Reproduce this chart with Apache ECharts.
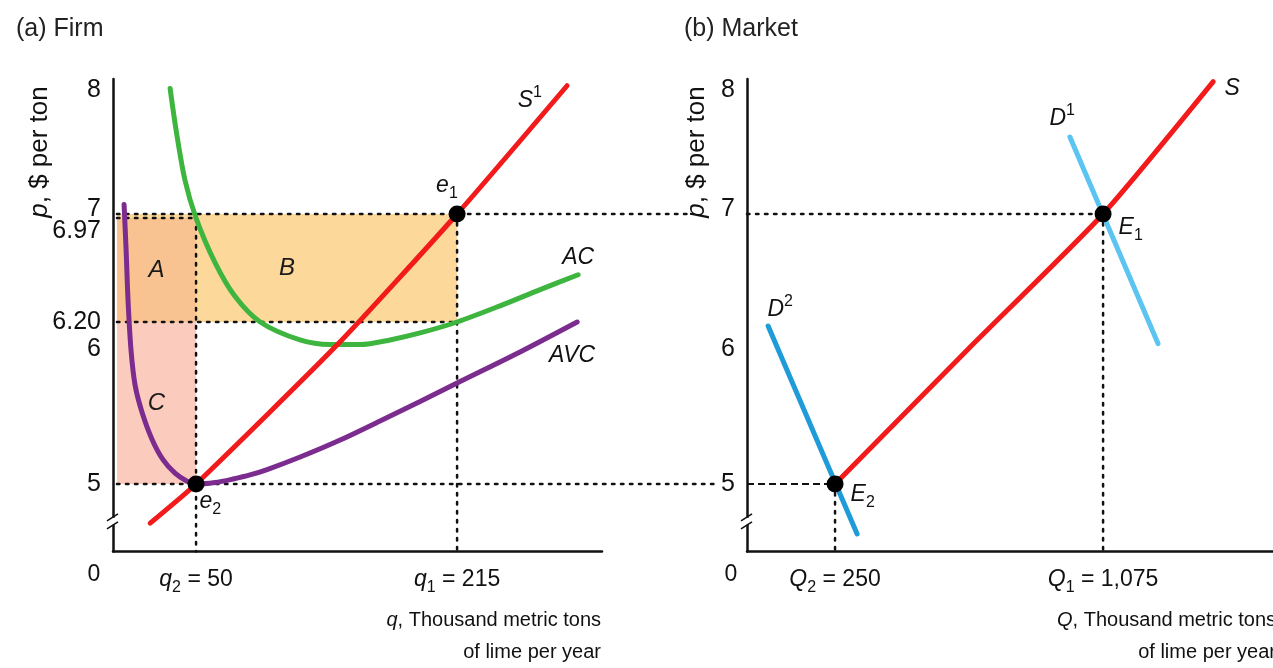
<!DOCTYPE html>
<html><head><meta charset="utf-8">
<script src="https://cdn.jsdelivr.net/npm/echarts@6/dist/echarts.min.js"></script>
<style>html,body{margin:0;padding:0;background:#fff}#c{width:1273px;height:668px}</style>
</head><body><div id="c"></div>
<script>
// ---------- Panel (a) Firm ----------
const firmS1  = [[21,4.71],[50,5],[140,6.04],[215,7],[284.5,7.95]];
const firmAC  = [[33.6,7.93],[37.4,7.62],[43,7.25],[50,6.97],[62,6.64],[74.6,6.39],[90.5,6.2],[115.7,6.067],[134.7,6.033],[153.6,6.033],[172.6,6.067],[191.6,6.119],[215,6.2],[242.2,6.32],[267.5,6.44],[291.5,6.55]];
const firmAVC = [[4.5,7.07],[5.8,6.73],[7,6.36],[8.9,5.99],[11.5,5.73],[15.9,5.53],[22.2,5.33],[29.1,5.18],[36.7,5.08],[44.3,5.02],[50,5],[62,5.011],[73.4,5.037],[84.1,5.067],[94.9,5.107],[115.8,5.2],[141.1,5.326],[166.3,5.467],[191.6,5.611],[216.9,5.759],[254.8,5.978],[290.9,6.2]];
const firmEquilibria = [[215,7],[50,5]];          // e1, e2
const firmQ = [50, 215];                           // q2, q1
const firmP = [7, 6.97, 6.2, 5];                   // p1, AC(q2), AC(q1), p2
const firmXTicks = [0, 50, 215];
const firmYTicks = [5, 6, 6.2, 6.97, 7, 8];
const firmBridge = [362, 380];                     // guide lines reaching into panel (b)
// ---------- Panel (b) Market ----------
const marketS  = [[250,5],[660,6],[1075,7],[1414,7.98]];
const marketD1 = [[973,7.57],[1244,6.04]];
const marketD2 = [[44,6.17],[318,4.63]];
const marketEquilibria = [[1075,7],[250,5]];      // E1, E2
const marketXTicks = [0, 250, 1075];
const marketYTicks = [5, 6, 7, 8];
// curve / point labels (text, x, y in data units)
const firmNotes = [['{it|S}{sup|1}',261,7.84],['{it|AC}',291.5,6.68],['{it|AVC}',287.7,5.95],['{it|e}{sub|1}',208.6,7.21],['{it|e}{sub|2}',59,4.87]];
const marketNotes = [['{it|S}',1472,7.93],['{it|D}{sup|1}',949,7.71],['{it|D}{sup|2}',81,6.29],['{it|E}{sub|1}',1160,6.9],['{it|E}{sub|2}',335,4.92]];
const areaNames = ['A','B','C'];

const FONT = 'Liberation Sans, Arial, Helvetica, sans-serif';
const C = '#111';
const rich = {
  it:{fontStyle:'italic',fontSize:23,fontFamily:FONT,color:C,lineHeight:32,verticalAlign:'middle'},
  n:{fontSize:23,fontFamily:FONT,color:C,lineHeight:32},
  sub:{fontSize:16,fontFamily:FONT,color:C,lineHeight:16,verticalAlign:'bottom'},
  sup:{fontSize:16,fontFamily:FONT,color:C,lineHeight:16,verticalAlign:'top'},
  zero:{fontSize:23,fontFamily:FONT,color:C,padding:[0,46,0,0]},
  up:{fontSize:25,fontFamily:FONT,color:C,padding:[0,0,10,0]},
  dn:{fontSize:25,fontFamily:FONT,color:C,padding:[26,0,0,0]},
  top:{fontSize:25,fontFamily:FONT,color:C,padding:[22,0,0,0]},
  y:{fontSize:25,fontFamily:FONT,color:C}
};
const nameRich = {
  it:{fontStyle:'italic',fontSize:20,fontFamily:FONT,fill:C,lineHeight:32},
  n:{fontSize:20,fontFamily:FONT,fill:C,lineHeight:32}
};
const yNameRich = {
  it:{fontStyle:'italic',fontSize:26,fontFamily:FONT,fill:C},
  n:{fontSize:26,fontFamily:FONT,fill:C}
};
const AX = {color:'#111', width:2.5};

const series = [];
const [qq2,qq1] = firmQ; const [p1,acq2,acq1,p2] = firmP;
function area(name, x0,y0,x1,y1,color){
  series.push({type:'line', xAxisIndex:0, yAxisIndex:0, data:[], z:1,
    markArea:{silent:true, itemStyle:{color:color, opacity:1},
      label:{show:true, position:'inside', formatter:name, fontStyle:'italic', fontSize:24, fontFamily:FONT, color:'#1a1a1a'},
      data:[[{xAxis:x0,yAxis:y0},{xAxis:x1,yAxis:y1}]]}});
}
area(areaNames[1], 0, acq1, qq1, p1, '#fcd89a');
area(areaNames[0], 0, acq1, qq2, acq2, '#f9c291');
area(areaNames[2], 0, p2, qq2, acq1, '#fbcbbd');

// dotted / dashed guide segments: [x0,y0,x1,y1,dashed?]
const [E1,E2] = marketEquilibria;
const firmGuides = [
  [0,p1,firmBridge[0],p1,0],[0,acq2,qq2,acq2,0],[qq2,acq2,qq2,4.5,0],
  [0,acq1,qq1,acq1,0],[qq1,p1,qq1,4.5,0],[0,p2,firmBridge[1],p2,0]
];
const marketGuides = [
  [-21,E1[1],E1[0],E1[1],0],[E1[0],E1[1],E1[0],4.5,0],
  [-21,E2[1],E2[0],E2[1],1],[E2[0],E2[1],E2[0],4.5,0]
];
function guides(xi,yi,list){
  series.push({type:'custom', xAxisIndex:xi, yAxisIndex:yi, data:list, z:3, clip:false, silent:true,
    renderItem:(params,api)=>{
      const a = api.coord([api.value(0),api.value(1)]);
      const b = api.coord([api.value(2),api.value(3)]);
      const dashed = api.value(4)===1;
      return {type:'line', shape:{x1:a[0],y1:a[1],x2:b[0],y2:b[1]},
        style:{stroke:'#111', lineWidth: dashed?2:2.5, lineDash: dashed?[7,4]:[2.5,6.5], lineCap: dashed?'butt':'round'}};
    }});
}
guides(0,0,firmGuides);
guides(1,1,marketGuides);

function curve(xi,yi,data,color,smooth){
  series.push({type:'line', xAxisIndex:xi, yAxisIndex:yi, data:data, symbol:'none', smooth:smooth, z:5,
    lineStyle:{color:color, width:5, cap:'round'}});
}
curve(0,0,firmAC,'#3db53f',0.3);
curve(0,0,firmAVC,'#7c2b8f',0.3);
curve(0,0,firmS1,'#f21a1a',0.2);
curve(1,1,marketD1,'#5cc4f0',false);
curve(1,1,marketD2,'#1f9bd7',false);
curve(1,1,marketS,'#f21a1a',0.2);

series.push({type:'scatter', xAxisIndex:0, yAxisIndex:0, data:firmEquilibria, symbolSize:17, itemStyle:{color:'#000', opacity:1}, z:8});
series.push({type:'scatter', xAxisIndex:1, yAxisIndex:1, data:marketEquilibria, symbolSize:17, itemStyle:{color:'#000', opacity:1}, z:8});

function notes(xi,yi,list){
  series.push({type:'scatter', xAxisIndex:xi, yAxisIndex:yi, symbolSize:0, z:9, silent:true,
    itemStyle:{opacity:1},
    data:list.map(n=>({value:[n[1],n[2]], name:n[0]})),
    label:{show:true, position:'inside', formatter:p=>p.name, rich:rich, color:C, opacity:1}});
}
notes(0,0,firmNotes);
notes(1,1,marketNotes);

function brk(xi,yi,x){
  series.push({type:'custom', xAxisIndex:xi, yAxisIndex:yi, data:[[x,4.72]], z:10, clip:false, silent:true,
    renderItem:(params,api)=>{
      const p = api.coord([api.value(0),api.value(1)]);
      return {type:'group', children:[
        {type:'rect', shape:{x:p[0]-5,y:p[1]-4,width:10,height:7}, style:{fill:'#fff'}},
        {type:'line', shape:{x1:p[0]-6,y1:p[1]-1,x2:p[0]+5,y2:p[1]-8}, style:{stroke:'#111',lineWidth:1.6}},
        {type:'line', shape:{x1:p[0]-6,y1:p[1]+7,x2:p[0]+5,y2:p[1]}, style:{stroke:'#111',lineWidth:1.6}}
      ]};
    }});
}
brk(0,0,-2.5);
brk(1,1,-21);

function xLab(sym, sub, num){ return '{it|'+sym+'}{sub|'+sub+'}{n| = '+num+'}'; }
const firmXLabels = {0:'{zero|0}', 50:xLab('q','2','50'), 215:xLab('q','1','215')};
const marketXLabels = {0:'{zero|0}', 250:xLab('Q','2','250'), 1075:xLab('Q','1','1,075')};
function yFmt(v){
  if (v===6.97) return '{dn|6.97}';
  if (v===7) return '{up|7}';
  if (v===8) return '{top|8}';
  if (v===6.2) return '{y|6.20}';
  return '{y|'+v+'}';
}

const option = {
  animation:false,
  backgroundColor:'#fff',
  title:[
    {text:'(a) Firm', left:11, top:12, textStyle:{fontSize:25, fontWeight:'normal', fontFamily:FONT, color:'#222'}},
    {text:'(b) Market', left:679, top:12, textStyle:{fontSize:25, fontWeight:'normal', fontFamily:FONT, color:'#222'}}
  ],
  grid:[
    {left:113, top:79, width:489, height:472.5, containLabel:false, outerBoundsMode:'none'},
    {left:747, top:79, width:526, height:472.5, containLabel:false, outerBoundsMode:'none'}
  ],
  xAxis:[
    {gridIndex:0, type:'value', min:-2.5, max:306.6, splitLine:{show:false}, axisTick:{show:false},
     axisLine:{onZero:false, lineStyle:AX},
     axisLabel:{customValues:firmXTicks, margin:12, formatter:v=>firmXLabels[v], rich:rich}},
    {gridIndex:1, type:'value', min:-21, max:1598, splitLine:{show:false}, axisTick:{show:false},
     axisLine:{onZero:false, lineStyle:AX},
     axisLabel:{customValues:marketXTicks, margin:12, formatter:v=>marketXLabels[v], rich:rich}}
  ],
  yAxis:[
    {gridIndex:0, type:'value', min:4.5, max:8, splitLine:{show:false}, axisTick:{show:false},
     axisLine:{show:true, onZero:false, lineStyle:AX},
     axisLabel:{customValues:firmYTicks, margin:12, formatter:yFmt, rich:rich}},
    {gridIndex:1, type:'value', min:4.5, max:8, splitLine:{show:false}, axisTick:{show:false},
     axisLine:{show:true, onZero:false, lineStyle:AX},
     axisLabel:{customValues:marketYTicks, margin:12, formatter:yFmt, rich:rich}}
  ],
  graphic:[
    {type:'text', x:40, y:152, rotation:Math.PI/2, style:{text:'{it|p}{n|, $ per ton}', rich:yNameRich, align:'center', verticalAlign:'middle'}},
    {type:'text', x:697, y:152, rotation:Math.PI/2, style:{text:'{it|p}{n|, $ per ton}', rich:yNameRich, align:'center', verticalAlign:'middle'}},
    {type:'text', x:601, y:604, style:{text:'{it|q}{n|, Thousand metric tons}\n{n|of lime per year}', rich:nameRich, align:'right', verticalAlign:'top'}},
    {type:'text', x:1276, y:604, style:{text:'{it|Q}{n|, Thousand metric tons}\n{n|of lime per year}', rich:nameRich, align:'right', verticalAlign:'top'}}
  ],
  series:series
};
echarts.init(document.getElementById('c')).setOption(option);
</script></body></html>
